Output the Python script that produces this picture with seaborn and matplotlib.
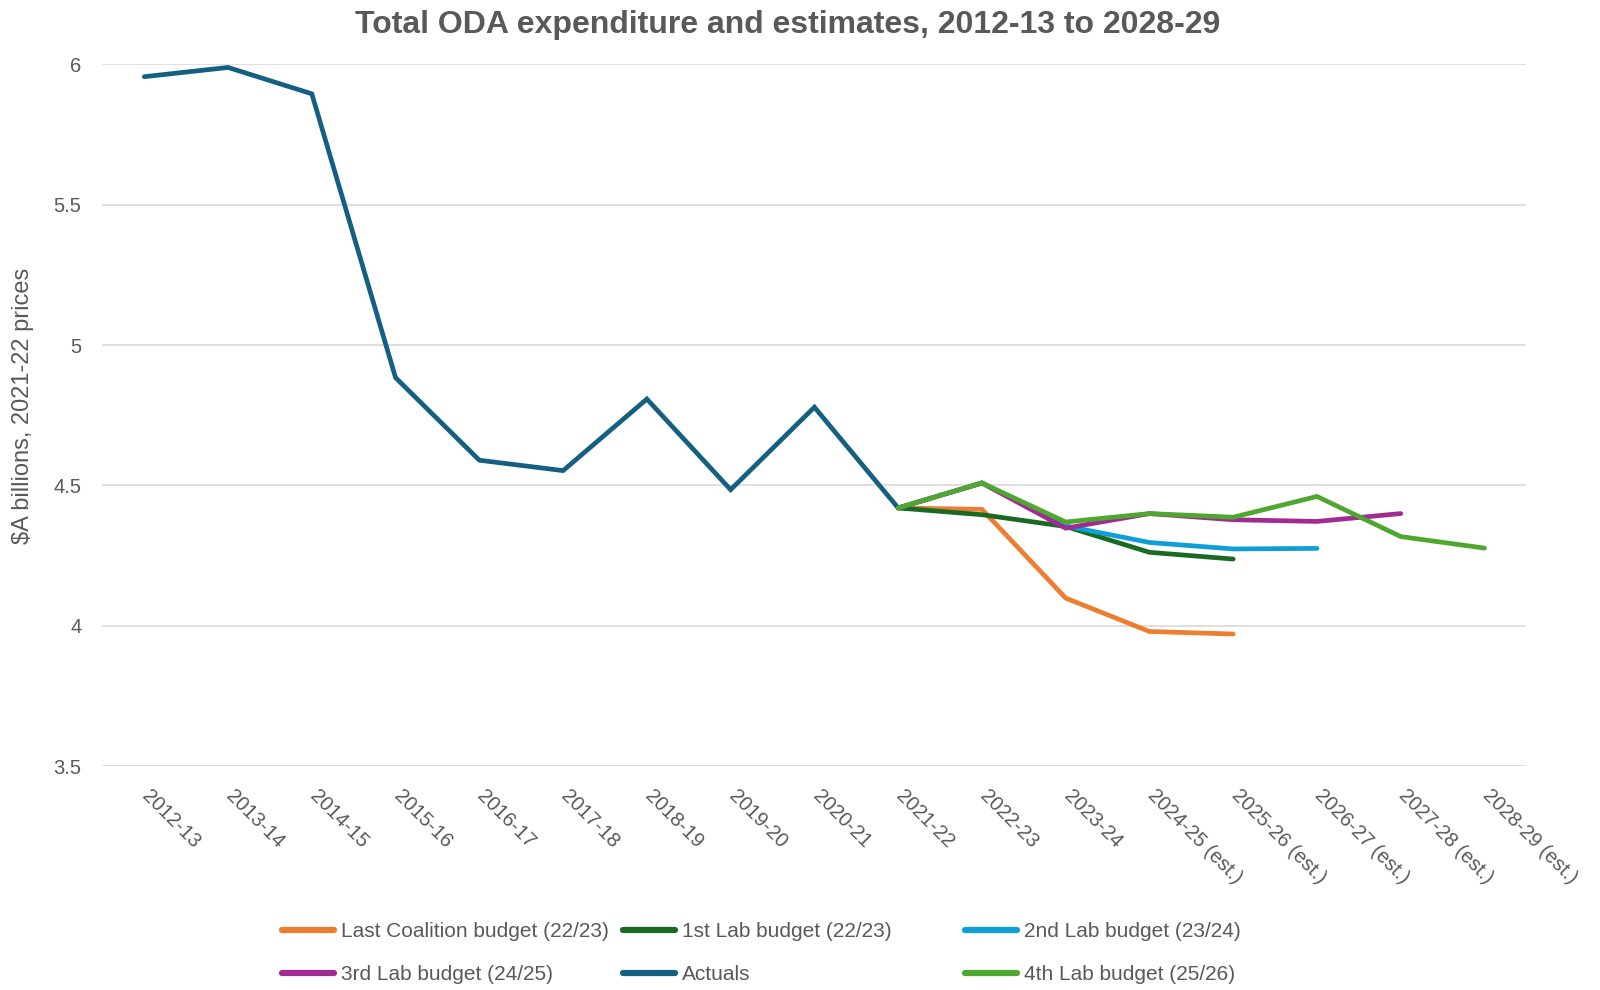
import numpy as np
import pandas as pd
import matplotlib
matplotlib.use("Agg")
import matplotlib.pyplot as plt
import matplotlib.transforms as mtransforms
import seaborn as sns

# Categories (financial years)
years = ["2012-13", "2013-14", "2014-15", "2015-16", "2016-17", "2017-18",
         "2018-19", "2019-20", "2020-21", "2021-22", "2022-23", "2023-24",
         "2024-25 (est.)", "2025-26 (est.)", "2026-27 (est.)",
         "2027-28 (est.)", "2028-29 (est.)"]

# Series values ($A billions, 2021-22 prices)
actuals = [5.956, 5.989, 5.895, 4.884, 4.590, 4.553, 4.808, 4.485, 4.779, 4.420]
last_coalition = [4.420, 4.415, 4.099, 3.980, 3.971]
lab_1st = [4.420, 4.396, 4.354, 4.262, 4.238]
lab_2nd = [4.420, 4.509, 4.356, 4.297, 4.274, 4.276]
lab_3rd = [4.420, 4.509, 4.348, 4.400, 4.378, 4.372, 4.400]
lab_4th = [4.420, 4.509, 4.370, 4.400, 4.387, 4.461, 4.318, 4.277]

series = {
    "Last Coalition budget (22/23)": (9, last_coalition),
    "1st Lab budget (22/23)": (9, lab_1st),
    "2nd Lab budget (23/24)": (9, lab_2nd),
    "3rd Lab budget (24/25)": (9, lab_3rd),
    "Actuals": (0, actuals),
    "4th Lab budget (25/26)": (9, lab_4th),
}

rows = []
for name, (start, vals) in series.items():
    for i, v in enumerate(vals):
        rows.append({"year": start + i, "value": v, "series": name})
df = pd.DataFrame(rows)

colors = {
    "Last Coalition budget (22/23)": "#ED7D31",
    "1st Lab budget (22/23)": "#196B24",
    "2nd Lab budget (23/24)": "#0F9ED5",
    "3rd Lab budget (24/25)": "#A02B93",
    "Actuals": "#156082",
    "4th Lab budget (25/26)": "#4EA72E",
}

sns.set_style("white")
plt.rcParams["font.family"] = ["Liberation Sans Narrow", "Liberation Sans", "DejaVu Sans"]
text_col = "#595959"

fig, ax = plt.subplots(figsize=(16, 9.9), dpi=100)
fig.subplots_adjust(left=0.064, right=0.954, top=0.935, bottom=0.226)

sns.lineplot(data=df, x="year", y="value", hue="series", hue_order=list(series.keys()),
             palette=colors, linewidth=3.4, ax=ax, legend=False,
             solid_capstyle="round", solid_joinstyle="miter")

ax.set_xlim(-0.5, len(years) - 0.5)
ax.set_ylim(3.5, 6.0)
ax.set_yticks([3.5, 4, 4.5, 5, 5.5, 6])
ax.set_yticklabels(["3.5", "4", "4.5", "5", "5.5", "6"])
ax.set_xticks(range(len(years)))
ax.set_xticklabels(years, rotation=-45, ha="left", va="center", rotation_mode="anchor")
ax.tick_params(axis="both", length=0, labelsize=14.5, colors=text_col)
ax.tick_params(axis="x", pad=19)
ax.tick_params(axis="y", pad=15)
shift = mtransforms.ScaledTranslation(1 / 100, 0, fig.dpi_scale_trans)
for lab in ax.get_xticklabels():
    lab.set_transform(lab.get_transform() + shift)
ax.yaxis.grid(True, color="#D9D9D9", linewidth=1.2)
ax.set_axisbelow(True)
for s in ax.spines.values():
    s.set_visible(False)

ax.set_xlabel("")
ax.set_ylabel("\\$A billions, 2021-22 prices", fontsize=17, color=text_col)
ax.yaxis.set_label_coords(-0.048, 0.513)
fig.suptitle("Total ODA expenditure and estimates, 2012-13 to 2028-29",
             x=788 / 1600, y=1 - 25 / 990, va="center",
             fontsize=23, fontweight="bold", color=text_col)

# legend: three columns of two entries, evenly spaced like the reference
columns = [["Last Coalition budget (22/23)", "3rd Lab budget (24/25)"],
           ["1st Lab budget (22/23)", "Actuals"],
           ["2nd Lab budget (23/24)", "4th Lab budget (25/26)"]]
col_x = [282, 623, 965]
for names, x in zip(columns, col_x):
    handles = [plt.Line2D([], [], color=colors[n], linewidth=4.5, solid_capstyle="round")
               for n in names]
    fig.legend(handles, names, loc="lower left", bbox_to_anchor=(x / 1600, 0.006),
               frameon=False, fontsize=15, handlelength=2.5, handletextpad=0.35,
               labelspacing=1.15, borderpad=0, borderaxespad=0, labelcolor=text_col)

fig.savefig("out.png", dpi=100)
